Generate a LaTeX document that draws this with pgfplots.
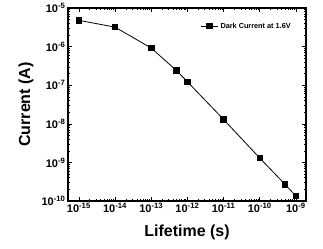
\documentclass[border=0pt]{standalone}
\usepackage{fontspec}
\setmainfont{Liberation Sans}
\usepackage{pgfplots}
\pgfplotsset{compat=1.18}
\begin{document}
\begin{tikzpicture}
\begin{axis}[
  scale only axis,
  width=238pt, height=193pt,
  clip=false,
  xmode=log, ymode=log,
  xmin=5e-16, xmax=1.9e-9,
  ymin=1e-10, ymax=1e-5,
  xtick={1e-15,1e-14,1e-13,1e-12,1e-11,1e-10,1e-9},
  xticklabels={10\textsuperscript{-15},10\textsuperscript{-14},10\textsuperscript{-13},10\textsuperscript{-12},10\textsuperscript{-11},10\textsuperscript{-10},10\textsuperscript{-9}},
  ytick={1e-10,1e-9,1e-8,1e-7,1e-6,1e-5},
  yticklabels={10\textsuperscript{-10},10\textsuperscript{-9},10\textsuperscript{-8},10\textsuperscript{-7},10\textsuperscript{-6},10\textsuperscript{-5}},
  ticklabel style={font=\bfseries\fontsize{11}{12}\selectfont},
  xticklabel style={yshift=1pt},
  yticklabel style={xshift=1pt},
  xlabel={\bfseries Lifetime (s)},
  ylabel={\bfseries Current (A)},
  label style={font=\bfseries\fontsize{16}{17}\selectfont},
  xlabel style={at={(rel axis cs:0.5,0)}, anchor=base, yshift=-35pt},
  ylabel style={at={(rel axis cs:0,0.5)}, anchor=center, yshift=42pt},
  axis line style={line width=1.2pt},
  major tick length=4pt, minor tick length=2pt,
  tick style={line width=0.6pt, black},
  legend style={draw=none, fill=none, inner sep=0pt, at={(rel axis cs:0.945,0.935)}, anchor=north east,
    font=\bfseries\fontsize{7.3}{8}\selectfont},
  legend cell align=left,
]
\addplot[black, line width=0.8pt, mark=square*, mark size=2.7pt] coordinates {
(1e-15,4.8e-6)
(1e-14,3.2e-6)
(1e-13,9.2e-7)
(5e-13,2.4e-7)
(1e-12,1.23e-7)
(1e-11,1.3e-8)
(1e-10,1.3e-9)
(5e-10,2.7e-10)
(1e-9,1.35e-10)
};
\addlegendentry{Dark Current at 1.6V}
\path (rel axis cs:0,0) ++(-68pt,-47pt) coordinate (bbA);
\path (rel axis cs:1,1) ++(17pt,7pt) coordinate (bbB);
\end{axis}
\useasboundingbox (bbA) rectangle (bbB);
\end{tikzpicture}
\end{document}
